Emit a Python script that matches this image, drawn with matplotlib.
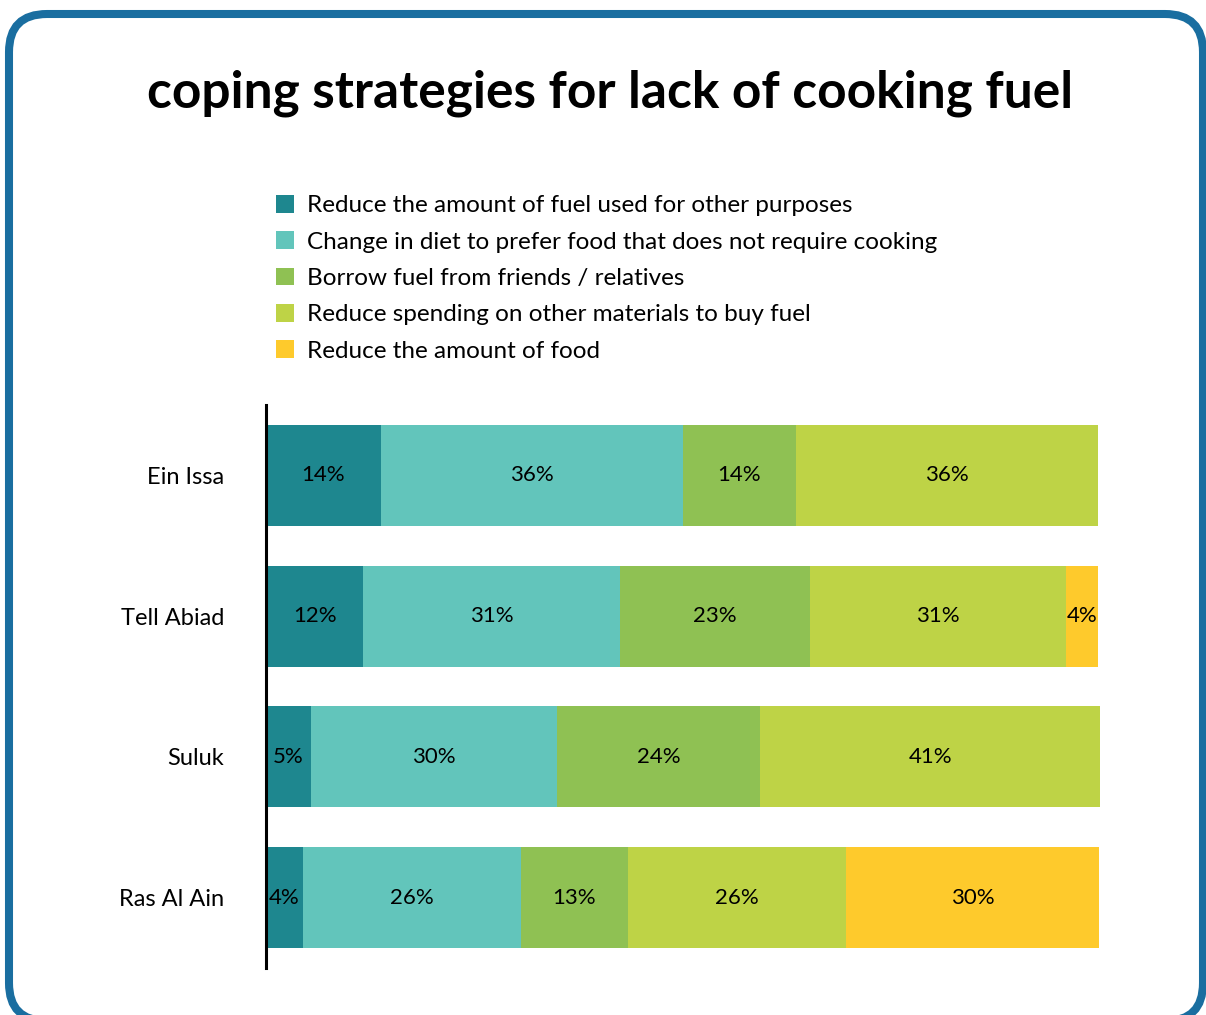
"""Stacked bars: coping strategies for lack of cooking fuel."""
import matplotlib
matplotlib.use('Agg')
import matplotlib.pyplot as plt
from matplotlib.patches import FancyBboxPatch

plt.rcParams['font.family'] = ['Lato', 'DejaVu Sans']

title = 'coping strategies for lack of cooking fuel'
places = ['Ein Issa', 'Tell Abiad', 'Suluk', 'Ras Al Ain']
strategies = [
    'Reduce the amount of fuel used for other purposes',
    'Change in diet to prefer food that does not require cooking',
    'Borrow fuel from friends / relatives',
    'Reduce spending on other materials to buy fuel',
    'Reduce the amount of food',
]
# share of households per place (%), one list per strategy
reduce_fuel = [13.8, 11.7, 5.4, 4.4]
change_diet = [36.3, 30.9, 29.6, 26.2]
borrow_fuel = [13.6, 22.8, 24.4, 12.9]
reduce_spending = [36.3, 30.8, 40.9, 26.2]
reduce_food = [0.0, 3.8, 0.0, 30.5]
colors = ['#1e878f', '#62c5bb', '#8fc153', '#bed346', '#feca2c']

series = [reduce_fuel, change_diet, borrow_fuel, reduce_spending, reduce_food]

fig = plt.figure(figsize=(12.06, 10.15), dpi=100)
ax = fig.add_axes([0.2206, 0.0463, 0.6965, 0.5547])

left = [0.0] * len(places)
ypos = list(range(len(places)))
for vals, col, name in zip(series, colors, strategies):
    bars = ax.barh(ypos, vals, left=left, height=0.716, color=col, label=name)
    labels = ['{:.0f}%'.format(v) if v > 0 else '' for v in vals]
    ax.bar_label(bars, labels=labels, label_type='center', fontsize=16, color='black')
    left = [a + b for a, b in zip(left, vals)]

ax.set_xlim(0, 101)
ax.set_ylim(3.5, -0.5)
ax.set_yticks(ypos)
ax.set_yticklabels(places, fontsize=17)
ax.tick_params(axis='y', length=0, pad=30)
ax.set_xticks([])
for s in ['top', 'right', 'bottom']:
    ax.spines[s].set_visible(False)
ax.spines['left'].set_linewidth(2.2)
ax.spines['left'].set_color('black')

fig.legend(loc='upper left', bbox_to_anchor=(0.2290, 0.8080), frameon=False,
           fontsize=17.5, handlelength=0.74, handleheight=0.74, handletextpad=0.53,
           labelspacing=0.62, borderpad=0, borderaxespad=0)

fig.text(0.506, 0.8936, title, ha='center', va='baseline', fontsize=37,
         fontweight='bold')

# rounded blue frame, bottom edge runs off the canvas
frame = FancyBboxPatch((0.09, -0.06), 11.94, 10.07,
                       boxstyle='round,pad=0,rounding_size=0.38',
                       transform=fig.dpi_scale_trans, facecolor='none',
                       edgecolor='#1a6ea0', linewidth=5.8, clip_on=False)
fig.patches.append(frame)

fig.savefig('out.png', dpi=100)
